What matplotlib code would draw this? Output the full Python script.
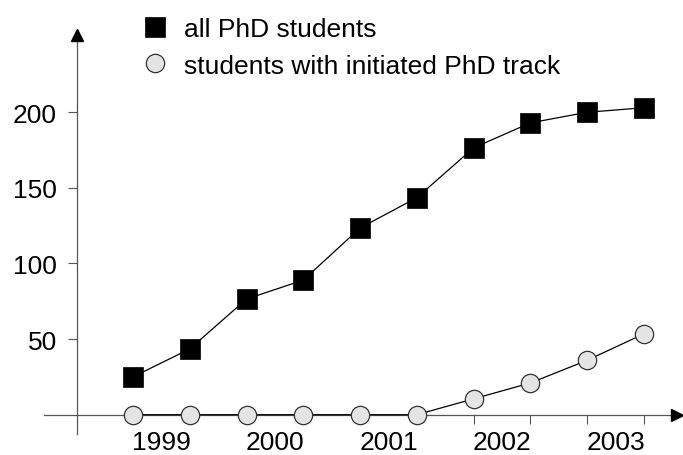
import numpy as np
import matplotlib
matplotlib.use("Agg")
import matplotlib.pyplot as plt

plt.rcParams['font.family'] = ['Liberation Sans', 'DejaVu Sans']

# Data (half-year steps, two per year)
years = ['1999', '2000', '2001', '2002', '2003']
all_phd = [25, 43.5, 76.5, 89, 123.5, 143.5, 176.5, 193, 200, 203]
initiated = [0, 0, 0, 0, 0, 0, 10.5, 21, 36, 53.5]
yticks = [50, 100, 150, 200]
labels = ['all PhD students', 'students with initiated PhD track']

idx = np.arange(len(all_phd))

fig = plt.figure(figsize=(6.83, 4.56), dpi=100)
ax = fig.add_axes([0, 0, 1, 1])
ax.set_xlim(-2.342, 9.687)
ax.set_ylim(-26.65, 274.9)

axis_col = '#555555'
yaxis_x = -0.986

for s in ['top', 'right']:
    ax.spines[s].set_visible(False)
ax.spines['left'].set_position(('data', yaxis_x))
ax.spines['left'].set_bounds(-13, 251)
ax.spines['bottom'].set_position(('data', 0))
ax.spines['bottom'].set_bounds(-1.57, 9.58)
for s in ['left', 'bottom']:
    ax.spines[s].set_color(axis_col)
    ax.spines[s].set_linewidth(0.9)
    ax.spines[s].set_zorder(1)

# arrows
ax.plot([yaxis_x], [251], marker='^', ms=8.6, color='black', clip_on=False, zorder=5)
ax.plot([9.58], [0], marker='>', ms=8.6, color='black', clip_on=False, zorder=5)

ax.set_yticks(yticks)
ax.tick_params(axis='y', direction='out', length=6.5, width=0.8, color=axis_col,
               pad=8, labelsize=19)
ax.set_xticks(idx)
ax.set_xticklabels([])
ax.tick_params(axis='x', which='major', direction='out', length=6.5, width=0.8,
               color=axis_col)
ax.set_xticks(np.arange(len(years)) * 2 + 0.5, minor=True)
ax.set_xticklabels(years, minor=True)
ax.tick_params(axis='x', which='minor', length=0, pad=11, labelsize=19)

ax.plot(idx, all_phd, color='black', lw=0.9, zorder=3)
ax.plot(idx, initiated, color='black', lw=0.9, zorder=3)
h1, = ax.plot(idx, all_phd, ls='none', marker='s', ms=14.4, mfc='black', mec='black',
              mew=0.5, zorder=4, label=labels[0])
h2, = ax.plot(idx, initiated, ls='none', marker='o', ms=13.2, mfc='#e4e4e4', mec='#333333',
              mew=0.9, zorder=4, label=labels[1], clip_on=False)

ax.legend(handles=[h1, h2], loc='upper left',
          bbox_to_anchor=(142 / 683, 1 - 18 / 456), bbox_transform=fig.transFigure,
          frameon=False, fontsize=19, handlelength=1.0, handletextpad=0.58,
          borderpad=0, borderaxespad=0, labelspacing=0.48, markerscale=1.0)

fig.savefig('out.png', dpi=100)
